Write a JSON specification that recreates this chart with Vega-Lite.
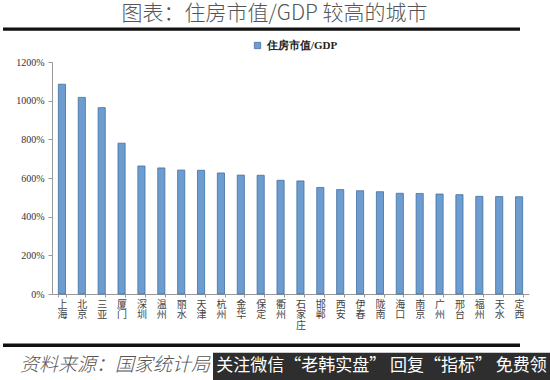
{
  "$schema": "https://vega.github.io/schema/vega-lite/v6.json",
  "padding": {"left": 3, "top": 3, "right": 0, "bottom": 0},
  "background": "white",
  "width": 477,
  "height": 232,
  "title": {"text": "图表：住房市值/GDP 较高的城市", "font": "Noto Sans CJK SC", "fontSize": 21, "fontWeight": 300, "color": "#555555", "anchor": "middle", "dx": -16, "offset": 3},
  "config": {"view": {"stroke": null}},
  "resolve": {"scale": {"x": "independent", "y": "independent"}, "axis": {"x": "independent", "y": "independent"}},
  "layer": [
    {
      "data": {"values": [
        {"city": "上海", "v": 1085},
        {"city": "北京", "v": 1017},
        {"city": "三亚", "v": 964},
        {"city": "厦门", "v": 780},
        {"city": "深圳", "v": 662},
        {"city": "温州", "v": 652},
        {"city": "丽水", "v": 641},
        {"city": "天津", "v": 640},
        {"city": "杭州", "v": 626},
        {"city": "金华", "v": 615},
        {"city": "保定", "v": 614},
        {"city": "衢州", "v": 588},
        {"city": "石家庄", "v": 585},
        {"city": "邯郸", "v": 551},
        {"city": "西安", "v": 540},
        {"city": "伊春", "v": 534},
        {"city": "陇南", "v": 529},
        {"city": "海口", "v": 521},
        {"city": "南京", "v": 520},
        {"city": "广州", "v": 517},
        {"city": "邢台", "v": 514},
        {"city": "福州", "v": 505},
        {"city": "天水", "v": 504},
        {"city": "定西", "v": 503}
      ]},
      "mark": {"type": "bar", "stroke": "#41709f", "strokeWidth": 0.8},
      "encoding": {
        "x": {"field": "city", "type": "nominal", "sort": null,
          "scale": {"paddingInner": 0.64, "paddingOuter": 0.32},
          "axis": {"title": null, "labelAngle": 0, "labelExpr": "split(datum.label, '')", "labelFont": "Noto Sans CJK SC", "labelFontSize": 10, "labelLineHeight": 10.5, "labelColor": "#444444", "domainColor": "#999999", "tickColor": "#999999", "tickBand": "extent", "tickSize": 3, "labelPadding": 2, "labelOverlap": false}},
        "y": {"field": "v", "type": "quantitative", "scale": {"domain": [0, 1200]},
          "axis": {"title": null, "values": [0, 200, 400, 600, 800, 1000, 1200], "labelExpr": "datum.value + '%'", "labelFont": "Liberation Serif", "labelFontSize": 10, "labelColor": "#333333", "grid": false, "domainColor": "#999999", "tickColor": "#999999", "tickSize": 4, "labelPadding": 4, "labelOverlap": false}},
        "color": {"datum": "住房市值/GDP", "scale": {"range": ["#6d9dd0"]},
          "legend": {"orient": "none", "legendX": 200, "legendY": -22, "title": null, "symbolType": "square", "symbolSize": 40, "symbolStrokeColor": "#41709f", "symbolStrokeWidth": 0.8, "labelFont": "Liberation Serif", "labelFontSize": 11, "labelFontWeight": "bold", "labelColor": "#222222"}}
      }
    },
    {
      "data": {"values": [{"pos": "top", "lo": 1361, "hi": 1379}, {"pos": "bottom", "lo": -274, "hi": -256}]},
      "mark": {"type": "rect", "color": "#111111"},
      "encoding": {
        "x": {"datum": -49, "type": "quantitative", "scale": {"domain": [0, 477]}, "axis": null},
        "x2": {"datum": 468},
        "y": {"field": "lo", "type": "quantitative", "scale": {"domain": [0, 1200]}, "axis": null},
        "y2": {"field": "hi"}
      }
    },
    {
      "data": {"values": [{}]},
      "mark": {"type": "rect", "color": "#2e2e2e"},
      "encoding": {
        "x": {"datum": 161, "type": "quantitative", "scale": {"domain": [0, 477]}, "axis": null},
        "x2": {"datum": 498},
        "y": {"datum": -304, "type": "quantitative", "scale": {"domain": [0, 1200]}, "axis": null},
        "y2": {"datum": -445}
      }
    },
    {
      "data": {"values": [{"src": "资料来源：国家统计局"}]},
      "mark": {"type": "text", "align": "left", "font": "Noto Sans CJK SC", "fontSize": 19, "fontStyle": "italic", "fontWeight": 300, "color": "#555555"},
      "encoding": {
        "x": {"datum": -32, "type": "quantitative", "scale": {"domain": [0, 477]}, "axis": null},
        "y": {"datum": -366, "type": "quantitative", "scale": {"domain": [0, 1200]}, "axis": null},
        "text": {"field": "src"}
      }
    },
    {
      "data": {"values": [{"wm": "关注微信“老韩实盘” 回复“指标” 免费领"}]},
      "mark": {"type": "text", "color": "white", "fontSize": 17, "font": "Noto Sans CJK SC"},
      "encoding": {
        "x": {"datum": 329.5, "type": "quantitative", "scale": {"domain": [0, 477]}, "axis": null},
        "y": {"datum": -371, "type": "quantitative", "scale": {"domain": [0, 1200]}, "axis": null},
        "text": {"field": "wm"}
      }
    }
  ]
}
